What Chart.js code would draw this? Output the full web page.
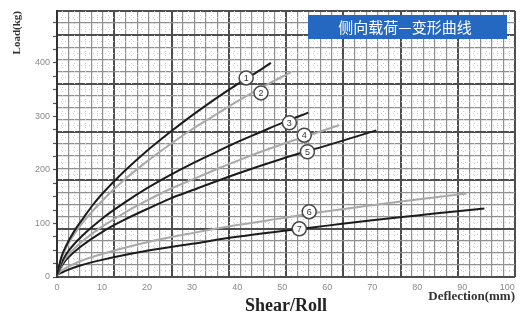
<!DOCTYPE html>
<html>
<head>
<meta charset="utf-8">
<script src="https://cdn.jsdelivr.net/npm/chart.js@4.4.1/dist/chart.umd.min.js"></script>
<style>
  html, body { margin: 0; padding: 0; background: #fff; }
  #wrap { position: relative; width: 529px; height: 321px; }
</style>
</head>
<body>
<div id="wrap"><canvas id="myChart"></canvas></div>
<script>
// curve numbers and read-off values (deflection mm / load kg)
const curveNames = ['1', '2', '3', '4', '5', '6', '7'];

const deflection1 = [0, 1, 2, 4, 6, 8, 10, 15, 20, 25, 30, 35, 40, 45, 47.5];
const load1       = [4, 38, 58, 88, 112, 135, 155, 198, 236, 270, 302, 332, 360, 386, 400];

const deflection2 = [0, 1, 2, 5, 10, 15, 20, 25, 30, 35, 40, 45, 52];
const load2       = [4, 34, 54, 94, 142, 182, 216, 247, 276, 302, 328, 352, 383];

const deflection3 = [0, 1, 2, 5, 10, 15, 20, 25, 30, 35, 40, 45, 50, 55.8];
const load3       = [4, 26, 42, 72, 109, 139, 166, 190, 212, 232, 252, 270, 288, 307];

const deflection4 = [0, 1, 2, 5, 10, 15, 20, 25, 30, 35, 40, 45, 50, 55, 62.7];
const load4       = [4, 23, 36, 62, 94, 120, 143, 164, 182, 200, 217, 233, 248, 262, 284];

const deflection5 = [0, 1, 2, 5, 10, 15, 20, 25, 30, 40, 50, 60, 70.9];
const load5       = [4, 20, 32, 55, 84, 107, 127, 146, 162, 193, 221, 246, 274];

const deflection6 = [0, 1, 2, 5, 10, 20, 30, 40, 50, 60, 70, 80, 90.9];
const load6       = [4, 12, 17, 29, 43, 65, 82, 97, 110, 123, 134, 145, 156];

const deflection7 = [0, 1, 2, 5, 10, 20, 30, 40, 50, 60, 70, 80, 90, 94.9];
const load7       = [4, 8, 12, 21, 32, 49, 62, 75, 86, 96, 106, 115, 124, 128];

// where the circled numbers sit (data units)
const markerDeflection = [42, 45.3, 51.6, 54.9, 55.6, 56, 53.8];
const markerLoad       = [372, 344, 288, 265, 234, 122, 90];

const xTicks = [0, 10, 20, 30, 40, 50, 60, 70, 80, 90, 100];
const yLabelTicks = [0, 100, 200, 300, 400];

const titleText = '侧向载荷—变形曲线';
const xTitle = 'Deflection(mm)';
const xSubTitle = 'Shear/Roll';
const yTitle = 'Load(kg)';

const allX = [deflection1, deflection2, deflection3, deflection4, deflection5, deflection6, deflection7];
const allY = [load1, load2, load3, load4, load5, load6, load7];

function pts(xs, ys) {
    return xs.map((v, i) => ({ x: v, y: ys[i] }));
}

const datasets = curveNames.map((name, i) => ({
    label: name,
    data: pts(allX[i], allY[i]),
    borderColor: i % 2 === 0 ? '#1c1c1c' : '#a9a9a9',
    borderWidth: 2,
    pointRadius: 0,
    fill: false,
    cubicInterpolationMode: 'monotone',
    xAxisID: 'x',
    yAxisID: 'y'
}));

const extras = {
    id: 'extras',
    afterDatasetsDraw(chart) {
        const ctx = chart.ctx;
        const xs = chart.scales.x, ys = chart.scales.y;
        ctx.save();
        // circled curve numbers
        markerDeflection.forEach((mx, i) => {
            const px = xs.getPixelForValue(mx);
            const py = ys.getPixelForValue(markerLoad[i]);
            ctx.beginPath();
            ctx.arc(px, py, 7, 0, Math.PI * 2);
            ctx.fillStyle = '#fff';
            ctx.fill();
            ctx.lineWidth = 1.5;
            ctx.strokeStyle = '#4a4a4a';
            ctx.stroke();
            ctx.fillStyle = '#333';
            ctx.font = '9px "Liberation Sans"';
            ctx.textAlign = 'center';
            ctx.textBaseline = 'middle';
            ctx.fillText(curveNames[i], px, py + 0.5);
        });
        // blue title box
        ctx.fillStyle = '#2568c2';
        ctx.fillRect(308, 15, 199, 24);
        ctx.fillStyle = '#fff';
        ctx.font = '15px "Noto Sans CJK SC"';
        ctx.textAlign = 'center';
        ctx.textBaseline = 'middle';
        ctx.fillText(titleText, 405, 27);
        // big bottom caption
        ctx.fillStyle = '#222';
        ctx.font = 'bold 18px "Liberation Serif"';
        ctx.fillText(xSubTitle, 286, 306);
        ctx.restore();
    }
};

const ctx = document.getElementById('myChart');

const myChart = new Chart(ctx, {
    type: 'line',
    data: { datasets: datasets },
    options: {
        responsive: true,
        maintainAspectRatio: false,
        animation: false,
        layout: { padding: { top: 11, right: 14, bottom: 0, left: 0 } },
        plugins: {
            legend: { display: false },
            tooltip: { enabled: false }
        },
        scales: {
            x: {
                type: 'linear',
                position: 'bottom',
                min: 0,
                max: 101.7,
                afterFit: s => { s.height = 44; },
                afterBuildTicks: s => { s.ticks = xTicks.map(v => ({ value: v })); },
                ticks: { color: '#8a8a8a', font: { size: 9 }, padding: 5 },
                grid: { display: false, drawTicks: false, tickLength: 0 },
                border: { display: false },
                title: {
                    display: true, text: xTitle, align: 'end', color: '#333',
                    font: { family: '"Liberation Serif"', size: 13, weight: 'bold' },
                    padding: { top: 0, bottom: 17 }
                }
            },
            y: {
                type: 'linear',
                position: 'left',
                min: 0,
                max: 497,
                afterFit: s => { s.width = 57; },
                ticks: {
                    stepSize: 25,
                    includeBounds: false,
                    color: '#8a8a8a',
                    font: { size: 9 },
                    padding: 3,
                    callback: v => yLabelTicks.includes(v) ? String(v) : ''
                },
                grid: { drawOnChartArea: false, tickLength: 4, color: '#555', tickWidth: 1.2 },
                border: { display: true, color: '#333', width: 2 },
                title: {
                    display: true, text: yTitle, align: 'end', color: '#333',
                    font: { family: '"Liberation Serif"', size: 11, weight: 'bold' },
                    padding: { top: 11, bottom: 0 }
                }
            },
            // graph paper behind the curves
            gx: {
                type: 'linear', position: 'bottom', min: 0, max: 40,
                afterFit: s => { s.height = 0; },
                ticks: { display: false, stepSize: 1 },
                grid: {
                    drawTicks: false,
                    color: c => c.tick.value % 5 === 0 ? '#4e4e4e' : '#909090',
                    lineWidth: c => c.tick.value % 5 === 0 ? 2 : 1.2
                },
                border: { display: false }
            },
            gy: {
                type: 'linear', position: 'left', min: 0, max: 22,
                afterFit: s => { s.width = 0; },
                ticks: { display: false, stepSize: 1 },
                grid: {
                    drawTicks: false,
                    color: c => (c.tick.value % 4 === 0 || c.tick.value === 22) ? '#4e4e4e' : '#909090',
                    lineWidth: c => (c.tick.value % 4 === 0 || c.tick.value === 22) ? 2 : 1.2
                },
                border: { display: false }
            },
            mx: {
                type: 'linear', position: 'bottom', min: 0, max: 80,
                afterFit: s => { s.height = 0; },
                ticks: { display: false, stepSize: 1 },
                grid: {
                    drawTicks: false,
                    color: c => c.tick.value % 2 === 1 ? '#cdcdcd' : 'rgba(0,0,0,0)',
                    lineWidth: 1
                },
                border: { display: false, dash: [1, 3] }
            },
            my: {
                type: 'linear', position: 'left', min: 0, max: 44,
                afterFit: s => { s.width = 0; },
                ticks: { display: false, stepSize: 1 },
                grid: {
                    drawTicks: false,
                    color: c => c.tick.value % 2 === 1 ? '#cdcdcd' : 'rgba(0,0,0,0)',
                    lineWidth: 1
                },
                border: { display: false, dash: [1, 3] }
            }
        }
    },
    plugins: [extras]
});
</script>
</body>
</html>
